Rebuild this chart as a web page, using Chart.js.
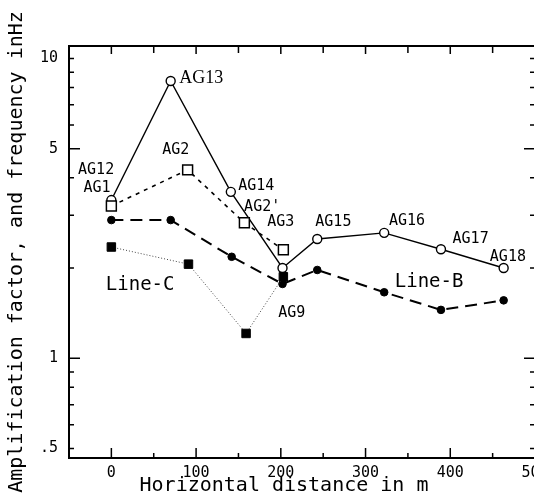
<!DOCTYPE html>
<html><head><meta charset="utf-8">
<script src="https://cdn.jsdelivr.net/npm/chart.js@4.4.0/dist/chart.umd.min.js"></script>
<style>
html,body{margin:0;padding:0;background:#fff;overflow:hidden;width:534px;height:498px;}
canvas{display:block;}
</style></head><body>
<canvas id="c" width="560" height="498"></canvas>
<script>
// ---- data ----
const lineA_x = [0, 70, 141, 202, 243, 322, 389, 463];
const lineA_y = [3.37, 8.41, 3.59, 2.00, 2.50, 2.62, 2.31, 2.00];
const sq_x = [0, 90, 157, 203];
const sq_y = [3.22, 4.25, 2.83, 2.30];
const lineB_x = [0, 70, 142, 202, 243, 322, 389, 463];
const lineB_y = [2.89, 2.89, 2.18, 1.77, 1.97, 1.66, 1.45, 1.56];
const lineC_x = [0, 91, 159, 203];
const lineC_y = [2.35, 2.06, 1.21, 1.87];

const xMajorTicks = [0, 100, 200, 300, 400, 500];
const xTickLabels = ['0', '100', '200', '300', '400', '500'];
const xMinorTicks = [50, 150, 250, 350, 450];
const yMajorTicks = [0.5, 1, 5, 10];
const yTickLabels = ['.5', '1', '5', '10'];
const yMinorTicks = [0.6, 0.7, 0.8, 0.9, 2, 3, 4, 6, 7, 8, 9];

const pointLabels = ['AG12', 'AG1', 'AG13', 'AG2', 'AG14', "AG2'", 'AG3', 'AG15', 'AG16', 'AG17', 'AG18', 'AG9', 'Line-C', 'Line-B'];
const labelX = [-18, -17, 106, 76, 171, 178, 200, 262, 349, 424, 468, 213, 34, 375];
const labelY = [4.25, 3.70, 8.60, 4.95, 3.75, 3.20, 2.85, 2.85, 2.87, 2.50, 2.18, 1.41, 1.76, 1.80];

const xTitle = 'Horizontal distance in m';
const yTitle = 'Amplification factor, and frequency inHz';

// ---- build ----
const pts = (xs, ys) => xs.map((x, i) => ({x: x, y: ys[i]}));
const MONO = '"DejaVu Sans Mono", "Liberation Mono", monospace';

const decor = {
  id: 'decor',
  beforeDatasetsDraw(chart) {
    const {ctx, chartArea: a, scales: {x, y}} = chart;
    ctx.save();
    ctx.strokeStyle = '#000';
    ctx.lineWidth = 1.5;
    ctx.beginPath();
    const xt = (v, lb, lt) => {
      const p = x.getPixelForValue(v);
      ctx.moveTo(p, a.bottom); ctx.lineTo(p, a.bottom - lb);
      ctx.moveTo(p, a.top); ctx.lineTo(p, a.top + lt);
    };
    xMajorTicks.forEach(v => xt(v, 10, 8));
    xMinorTicks.forEach(v => xt(v, 5, 7));
    const yt = (v, l) => {
      const p = y.getPixelForValue(v);
      ctx.moveTo(a.left, p); ctx.lineTo(a.left + l, p);
      ctx.moveTo(a.right, p); ctx.lineTo(a.right - l, p);
    };
    yMajorTicks.forEach(v => yt(v, (v === 1 || v === 5) ? 11 : 5));
    yMinorTicks.forEach(v => yt(v, 5));
    ctx.stroke();
    ctx.lineWidth = 2;
    ctx.strokeRect(a.left, a.top, a.right - a.left, a.bottom - a.top);
    ctx.restore();
  },
  afterDatasetsDraw(chart) {
    const {ctx, chartArea: a, scales: {x, y}} = chart;
    ctx.save();
    ctx.fillStyle = '#000';
    ctx.textAlign = 'center';
    ctx.textBaseline = 'middle';
    pointLabels.forEach((t, i) => {
      if (t === 'AG13') ctx.font = '18px "Liberation Serif", serif';
      else if (t.startsWith('Line')) ctx.font = '19px ' + MONO;
      else ctx.font = '15px ' + MONO;
      ctx.fillText(t, x.getPixelForValue(labelX[i]), y.getPixelForValue(labelY[i]));
    });
    // x-axis title (centred slightly left of the plot centre, as in the figure)
    ctx.font = '20px ' + MONO;
    ctx.fillText(xTitle, (a.left + a.right) / 2 - 18, 486);
    ctx.restore();
  }
};

new Chart(document.getElementById('c'), {
  type: 'line',
  data: {
    datasets: [
      {
        data: pts(lineC_x, lineC_y), borderColor: '#444', borderWidth: 1, borderDash: [1, 2],
        pointStyle: 'rect', pointRadius: 6, pointBackgroundColor: '#000', pointBorderColor: '#000', pointBorderWidth: 1
      },
      {
        data: pts(lineB_x, lineB_y), borderColor: '#000', borderWidth: 2, borderDash: [12, 7],
        pointStyle: 'circle', pointRadius: 3.8, pointBackgroundColor: '#000', pointBorderColor: '#000', pointBorderWidth: 1
      },
      {
        data: pts(sq_x, sq_y), borderColor: '#000', borderWidth: 1.6, borderDash: [4, 5],
        pointStyle: 'rect', pointRadius: 7, pointBackgroundColor: '#fff', pointBorderColor: '#000', pointBorderWidth: 1.5
      },
      {
        data: pts(lineA_x, lineA_y), borderColor: '#000', borderWidth: 1.4,
        pointStyle: 'circle', pointRadius: 4.5, pointBackgroundColor: '#fff', pointBorderColor: '#000', pointBorderWidth: 1.4
      }
    ]
  },
  options: {
    responsive: false,
    animation: false,
    devicePixelRatio: 1,
    layout: {padding: {top: 46, right: 25, left: 0, bottom: 0}},
    plugins: {legend: {display: false}, tooltip: {enabled: false}},
    elements: {line: {tension: 0, fill: false}},
    scales: {
      x: {
        type: 'linear', min: -50, max: 500,
        grid: {display: false, drawTicks: false},
        border: {display: false},
        afterBuildTicks: s => { s.ticks = xMajorTicks.map(v => ({value: v})); },
        afterFit: s => { s.height = 40; s.paddingLeft = 0; s.paddingRight = 0; },
        ticks: {
          padding: 6, color: '#000', maxRotation: 0, autoSkip: false,
          font: {family: MONO, size: 15},
          callback: v => { const i = xMajorTicks.indexOf(v); return i >= 0 ? xTickLabels[i] : ''; }
        },
        title: {display: false}
      },
      y: {
        type: 'logarithmic', min: 0.465, max: 11,
        grid: {display: false, drawTicks: false},
        border: {display: false},
        afterBuildTicks: s => { s.ticks = yMajorTicks.map(v => ({value: v})); },
        afterFit: s => { s.width = 69; s.paddingTop = 0; s.paddingBottom = 0; },
        ticks: {
          padding: 11, color: '#000', autoSkip: false,
          font: {family: MONO, size: 15},
          callback: v => { const i = yMajorTicks.indexOf(v); return i >= 0 ? yTickLabels[i] : ''; }
        },
        title: {display: true, text: yTitle, color: '#000', font: {family: MONO, size: 20, lineHeight: 1.2}, padding: {top: 5, bottom: 0}}
      }
    }
  },
  plugins: [decor]
});
</script>
</body></html>
